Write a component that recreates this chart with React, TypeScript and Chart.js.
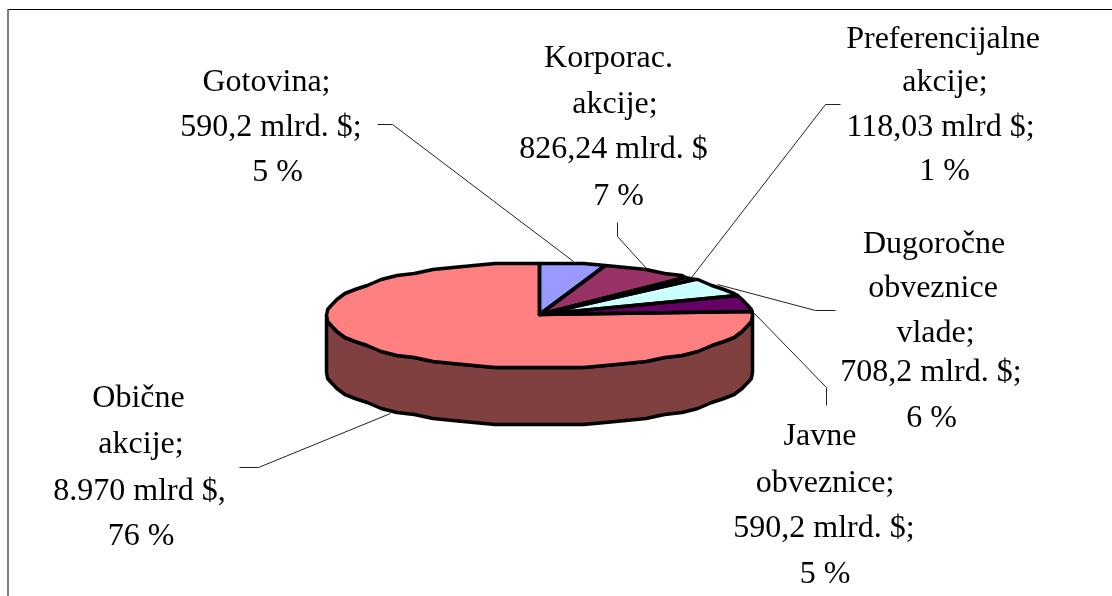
import React, { useEffect, useRef } from "react";
import { Chart, registerables } from "chart.js";

Chart.register(...registerables);

const categories = ["Gotovina", "Korporac. akcije", "Preferencijalne akcije", "Dugoročne obveznice vlade", "Javne obveznice", "Obične akcije"];
const valuesMlrd = [590.2, 826.24, 118.03, 708.2, 590.2, 8970];
const topColors = ["#9999FF", "#993366", "#FFFFCC", "#CCFFFF", "#660066", "#FF8080"];
const sideColors = ["#4C4C80", "#4C1933", "#808066", "#668080", "#330033", "#804040"];
const labelLines = [
  ["Gotovina;", "590,2 mlrd. $;", "5 %"],
  ["Korporac.", "akcije;", "826,24 mlrd. $", "7 %"],
  ["Preferencijalne", "akcije;", "118,03 mlrd $;", "1 %"],
  ["Dugoročne", "obveznice", "vlade;", "708,2 mlrd. $;", "6 %"],
  ["Javne", "obveznice;", "590,2 mlrd. $;", "5 %"],
  ["Obične", "akcije;", "8.970 mlrd $,", "76 %"],
];

// Layout of the annotation text and leader lines (not data).
const labelCenters = [
  [266.5, 271, 277.5],
  [608.5, 615, 613.5, 618.5],
  [943, 945, 940.5, 944.5],
  [934, 933, 935.5, 931, 931.5],
  [820, 825, 824, 825],
  [138.5, 141, 139.5, 141],
];
const labelBaselines = [
  [91, 136, 181],
  [67, 113, 158, 205],
  [48, 91, 136, 180],
  [253, 297, 342, 381, 427],
  [445, 492, 537, 583],
  [407, 453, 500, 545],
];
const leaders = [
  [[377, 124], [392, 124], [573, 261]],
  [[617, 222], [617, 236], [646, 268]],
  [[840, 104], [825, 104], [691, 277]],
  [[835, 310], [815, 310], [717, 284]],
  [[826, 405], [826, 387], [753, 312]],
  [[239, 467], [258, 467], [390, 413]],
];
const SQUASH = 52.5 / 213;
const DEPTH = 57;
const OUTLINE = 3.5;
const ARC_STEP = (6 * Math.PI) / 180;
const SNAP = 2;

// The reference outline is slightly jagged rather than a smooth ellipse.
function rimPoints(a: any, start: number, end: number, dy: number) {
  const ry = a.outerRadius * SQUASH;
  const pts: number[][] = [];
  const first = Math.ceil(start / ARC_STEP);
  const last = Math.floor(end / ARC_STEP);
  const at = (t: number) => [
    a.x + a.outerRadius * Math.cos(t),
    a.y + Math.round((ry * Math.sin(t)) / SNAP) * SNAP + dy,
  ];
  pts.push(at(start));
  for (let k = first; k <= last; k++) pts.push(at(k * ARC_STEP));
  pts.push(at(end));
  return pts;
}

const pie3d = {
  id: "pie3d",
  beforeDraw(chart: any) {
    const c = chart.ctx;
    c.save();
    c.strokeStyle = "#000";
    c.lineWidth = 1;
    c.beginPath();
    c.moveTo(8, 9.5);
    c.lineTo(1112, 9.5);
    c.stroke();
    c.strokeStyle = "#555";
    c.lineWidth = 1.5;
    c.beginPath();
    c.moveTo(8, 9);
    c.lineTo(8, 596);
    c.stroke();
    c.restore();
  },
  beforeDatasetsDraw(chart: any) {
    const c = chart.ctx;
    const arcs = chart.getDatasetMeta(0).data;
    arcs.forEach((a: any, i: number) => {
      const s = Math.max(a.startAngle, 0);
      const e = Math.min(a.endAngle, Math.PI);
      if (e <= s) return;
      c.beginPath();
      rimPoints(a, s, e, 0).forEach(([x, y], k) => (k ? c.lineTo(x, y) : c.moveTo(x, y)));
      rimPoints(a, s, e, DEPTH).reverse().forEach(([x, y]) => c.lineTo(x, y));
      c.closePath();
      c.fillStyle = sideColors[i];
      c.fill();
      c.lineWidth = OUTLINE;
      c.strokeStyle = "#000";
      c.lineJoin = "round";
      c.stroke();
    });
    const a0 = arcs[0];
    c.save();
    c.translate(a0.x, a0.y);
    c.scale(1, SQUASH);
    c.translate(-a0.x, -a0.y);
  },
  afterDatasetsDraw(chart: any) {
    const c = chart.ctx;
    c.restore();
    chart.getDatasetMeta(0).data.forEach((a: any) => {
      c.beginPath();
      c.moveTo(a.x, a.y - 1);
      rimPoints(a, a.startAngle, a.endAngle, 0).forEach(([x, y]) => c.lineTo(x, y));
      c.closePath();
      c.lineWidth = OUTLINE;
      c.strokeStyle = "#000";
      c.lineJoin = "round";
      c.stroke();
    });
    c.save();
    c.lineWidth = 1;
    c.strokeStyle = "#222";
    leaders.forEach((pts) => {
      c.beginPath();
      pts.forEach(([x, y], k) => (k ? c.lineTo(x + 0.5, y + 0.5) : c.moveTo(x + 0.5, y + 0.5)));
      c.stroke();
    });
    c.fillStyle = "#000";
    c.font = '32px "Liberation Serif"';
    c.textAlign = "center";
    c.textBaseline = "alphabetic";
    labelLines.forEach((lines, i) => {
      lines.forEach((t, k) => c.fillText(t, labelCenters[i][k], labelBaselines[i][k]));
    });
    c.restore();
  },
};

export default function App() {
  const ref = useRef<HTMLCanvasElement | null>(null);
  useEffect(() => {
    const chart = new Chart(ref.current as HTMLCanvasElement, {
      type: "pie",
      data: {
        labels: categories,
        datasets: [{ data: valuesMlrd, backgroundColor: topColors, borderWidth: 0 }],
      },
      options: {
        animation: false,
        responsive: false,
        layout: { padding: { left: 326.5, right: 359.5, top: 102.5, bottom: 67.5 } },
        plugins: { legend: { display: false }, tooltip: { enabled: false } },
      },
      plugins: [pie3d],
    } as any);
    return () => chart.destroy();
  }, []);
  return (
    <canvas
      ref={ref}
      width={1112}
      height={596}
      style={{ position: "fixed", left: 0, top: 0, width: 1112, height: 596, background: "#fff" }}
    />
  );
}
